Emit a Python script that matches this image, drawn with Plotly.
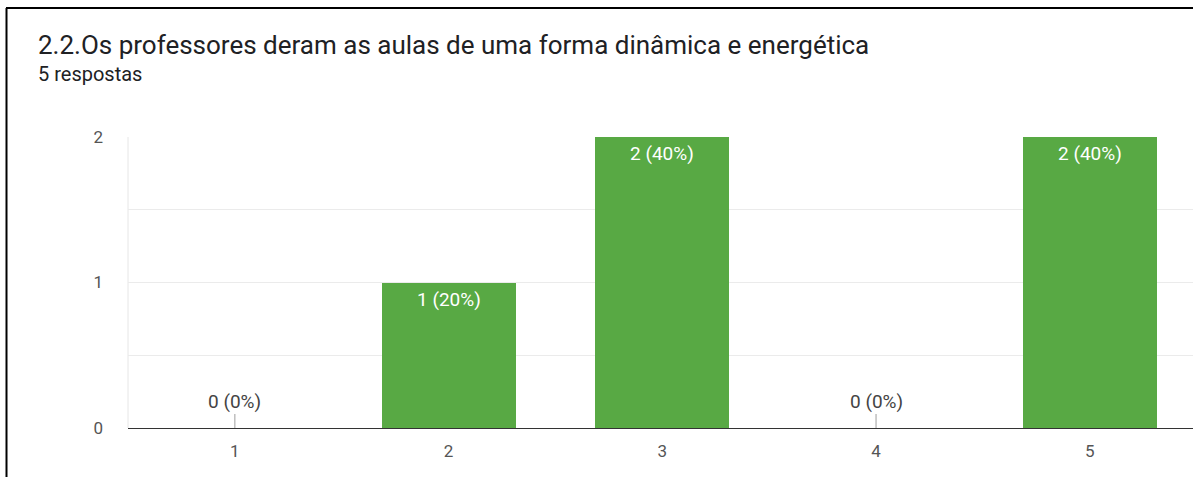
import plotly.graph_objects as go

# ---- data ----
categories = [1, 2, 3, 4, 5]
counts = [0, 1, 2, 0, 2]
title_text = "2.2.Os professores deram as aulas de uma forma dinâmica e energética"
subtitle_text = "5 respostas"
ytick_vals = [0, 1, 2]

total = sum(counts)
labels = [f"{c} ({c / total * 100:.0f}%)" for c in counts]

W, H = 1193, 477
ML, MR, MT, MB = 128, 0, 137, 49
PW = W - ML - MR
PH = H - MT - MB


def px_x(p):
    return (p - ML) / PW


def px_y(p):
    return (H - MB - p) / PH


BAR_COLOR = "#58a944"
FONT = "Roboto"

fig = go.Figure()
fig.add_trace(go.Bar(
    x=categories, y=counts, marker=dict(color=BAR_COLOR, line=dict(width=0)),
    width=0.627, hoverinfo="skip",
))

annotations = []
for cat, c, lab in zip(categories, counts, labels):
    if c > 0:
        annotations.append(dict(
            x=cat, y=c, xref="x", yref="y", text=lab, showarrow=False,
            yanchor="top", yshift=-3,
            font=dict(family=FONT, size=19, color="#ffffff"),
        ))
    else:
        annotations.append(dict(
            x=cat, y=c, xref="x", yref="y", text=lab, showarrow=True,
            ax=0, ay=-27, arrowhead=0, arrowwidth=1, arrowcolor="#9e9e9e",
            standoff=0, startstandoff=0,
            font=dict(family=FONT, size=19, color="#444444"),
        ))

annotations.append(dict(
    x=px_x(36), y=px_y(45), xref="paper", yref="paper", text=title_text,
    showarrow=False, xanchor="left", yanchor="middle",
    font=dict(family=FONT, size=26, color="#202124"),
))
annotations.append(dict(
    x=px_x(36), y=px_y(74), xref="paper", yref="paper", text=subtitle_text,
    showarrow=False, xanchor="left", yanchor="middle",
    font=dict(family=FONT, size=20, color="#202124"),
))

shapes = [
    # outer card border (left and top)
    dict(type="line", xref="paper", yref="paper",
         x0=px_x(6.5), x1=px_x(6.5), y0=px_y(8), y1=px_y(H + 5),
         line=dict(color="#000000", width=2)),
    dict(type="line", xref="paper", yref="paper",
         x0=px_x(6), x1=px_x(W + 5), y0=px_y(8), y1=px_y(8),
         line=dict(color="#000000", width=2)),
    # plot area left border
    dict(type="line", xref="paper", yref="paper",
         x0=0, x1=0, y0=0, y1=1, line=dict(color="#e6e6e6", width=1), layer="below"),
]

fig.update_layout(
    width=W, height=H,
    margin=dict(l=ML, r=MR, t=MT, b=MB, pad=0),
    paper_bgcolor="#ffffff", plot_bgcolor="#ffffff",
    showlegend=False, bargap=0,
    annotations=annotations, shapes=shapes,
    font=dict(family=FONT),
    xaxis=dict(
        range=[0.5, 5.483], tickvals=categories, ticktext=[str(c) for c in categories],
        showgrid=False, zeroline=False, showline=True, linecolor="#333333", linewidth=1,
        ticks="", ticklabelstandoff=8,
        tickfont=dict(family=FONT, size=17, color="#555555"), fixedrange=True,
    ),
    yaxis=dict(
        range=[0, 2], tickvals=ytick_vals, showgrid=True, gridcolor="#ebebeb", gridwidth=1,
        minor=dict(dtick=0.5, showgrid=True, gridcolor="#ebebeb", gridwidth=1),
        zeroline=False, showline=False, ticks="", ticklabelstandoff=24,
        tickfont=dict(family=FONT, size=17, color="#555555"), fixedrange=True,
    ),
)

fig.write_html(
    "out.html",
    config={"displayModeBar": False},
    post_script="document.body.style.margin='0px';document.body.style.overflow='hidden';",
)
